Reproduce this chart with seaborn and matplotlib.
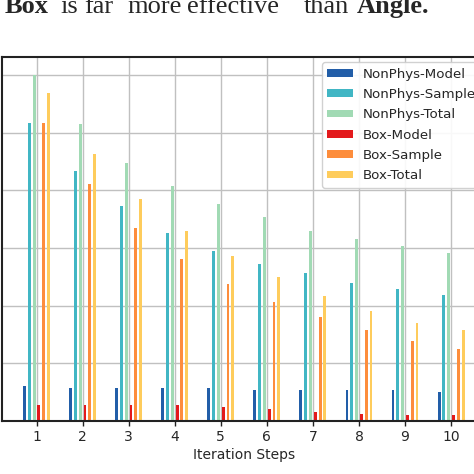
import pandas as pd
import matplotlib
matplotlib.use("Agg")
import matplotlib.pyplot as plt
import seaborn as sns

# values (arbitrary units, one grid step = 1)
steps = [1, 2, 3, 4, 5, 6, 7, 8, 9, 10]
nonphys_model = [0.61, 0.58, 0.58, 0.58, 0.57, 0.54, 0.54, 0.53, 0.53, 0.51]
nonphys_sample = [5.17, 4.34, 3.73, 3.26, 2.95, 2.72, 2.56, 2.40, 2.29, 2.18]
nonphys_total = [6.00, 5.15, 4.48, 4.07, 3.76, 3.53, 3.30, 3.15, 3.03, 2.92]
box_model = [0.28, 0.28, 0.28, 0.28, 0.24, 0.20, 0.15, 0.12, 0.10, 0.10]
box_sample = [5.17, 4.11, 3.35, 2.80, 2.38, 2.07, 1.80, 1.57, 1.38, 1.24]
box_total = [5.68, 4.62, 3.85, 3.30, 2.86, 2.49, 2.17, 1.91, 1.70, 1.58]

series_names = ["NonPhys-Model", "NonPhys-Sample", "NonPhys-Total",
                "Box-Model", "Box-Sample", "Box-Total"]
series_colors = ["#225ea8", "#41b6c4", "#a1dab4", "#e31a1c", "#fd8d3c", "#fecc5c"]

rows = []
for name, vals in zip(series_names, [nonphys_model, nonphys_sample, nonphys_total,
                                     box_model, box_sample, box_total]):
    for s, v in zip(steps, vals):
        rows.append({"step": s, "value": v, "series": name})
df = pd.DataFrame(rows)

sns.set_style("whitegrid")
plt.rcParams["font.family"] = ["DejaVu Sans"]

fig = plt.figure(figsize=(4.74, 4.74), dpi=100)
W = H = 474.0
ax = fig.add_axes([1.5 / W, (H - 421) / H, (487 - 1.5) / W, (421 - 57) / H])

sns.barplot(data=df, x="step", y="value", hue="series", hue_order=series_names,
            palette=dict(zip(series_names, series_colors)), width=0.625, gap=0.4,
            linewidth=0, saturation=1, ax=ax)

ax.set_xlim(-0.76, 9.78)
ax.set_ylim(0, 6.31)
ax.set_yticks(range(0, 7))
ax.tick_params(axis="y", labelleft=False, length=0)
ax.tick_params(axis="x", bottom=True, length=3.5, width=1, color="#222222",
               labelsize=10, pad=3)
ax.set_xlabel("Iteration Steps", fontsize=10, labelpad=3)
ax.set_ylabel("")
ax.set_axisbelow(True)
ax.grid(True, color="#c0c0c0", linewidth=1)
for sp in ax.spines.values():
    sp.set_color("#222222")
    sp.set_linewidth(1.5)

ax.legend(loc="upper right", fontsize=9.6, frameon=True, edgecolor="#cccccc",
          framealpha=0.9, handleheight=0.5, handlelength=1.9, borderaxespad=0.4,
          labelspacing=0.55)

# caption fragment above the chart (justified words, cut at the top)
words = [("Box", 5, "bold"), ("is", 60, "normal"), ("far", 84, "normal"),
         ("more", 127, "normal"), ("effective", 187, "normal"),
         ("than", 304, "normal"), ("Angle.", 357, "bold")]
for w, x, wt in words:
    fig.text(x / W, 1 - 12.7 / H, w, fontsize=19, fontweight=wt,
             family=["Liberation Serif", "DejaVu Serif"], va="baseline", ha="left")

fig.savefig("out.png", dpi=100)
